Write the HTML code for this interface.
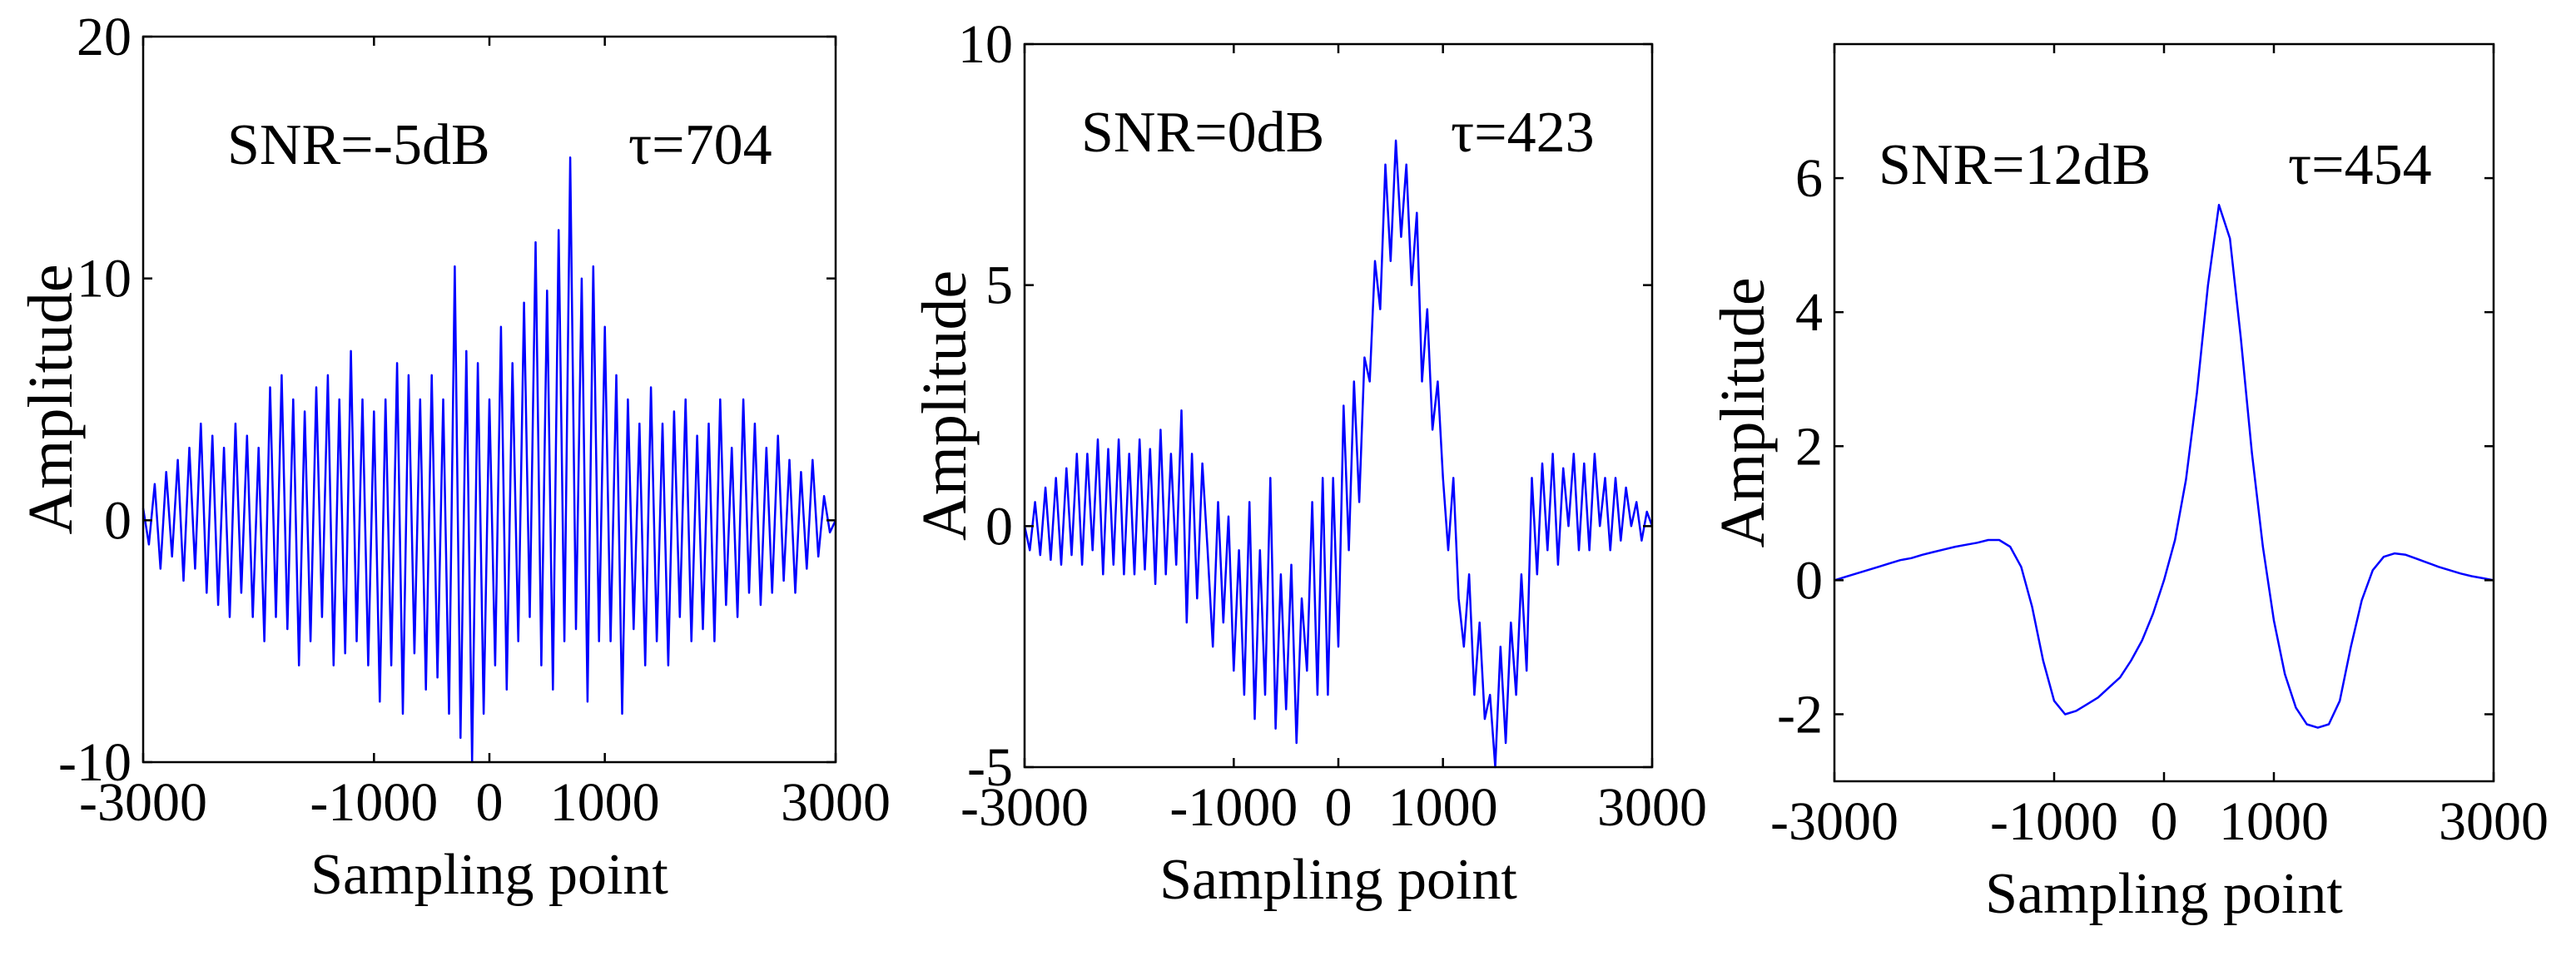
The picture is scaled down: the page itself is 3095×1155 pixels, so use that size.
<!DOCTYPE html>
<html><head><meta charset="utf-8">
<style>
html,body{margin:0;padding:0;background:#fff;}
svg{display:block;}
text{font-family:"Liberation Serif","DejaVu Serif",serif;fill:#000;}
</style></head>
<body>
<svg id="fig" width="3095" height="1155" viewBox="0 0 3095 1155" xmlns="http://www.w3.org/2000/svg"></svg>
<script>
// ---- Data ----
const xTicks = [-3000, -1000, 0, 1000, 3000];
const p1YTicks = [-10, 0, 10, 20];
const p2YTicks = [-5, 0, 5, 10];
const p3YTicks = [-2, 0, 2, 4, 6];
const p1Step = 50;
const p1Values = [0.5,-1,1.5,-2,2,-1.5,2.5,-2.5,3,-2,4,
 -3,3.5,-3.5,3,-4,4,-3,3.5,-4,3,
 -5,5.5,-4,6,-4.5,5,-6,4.5,-5,5.5,
 -4,6,-6,5,-5.5,7,-5,5,-6,4.5,
 -7.5,5,-6,6.5,-8,6,-5.5,5,-7,6,
 -6.5,5,-8,10.5,-9,7,-10,6.5,-8,5,
 -6,8,-7,6.5,-5,9,-4,11.5,-6,9.5,
 -7,12,-5,15,-4.5,10,-7.5,10.5,-5,8,
 -5,6,-8,5,-4.5,4,-6,5.5,-5,4,
 -6,4.5,-4,5,-5,3.5,-4.5,4,-5,5,
 -3.5,3,-4,5,-3,4,-3.5,3,-3,3.5,
 -2.5,2.5,-3,2,-2,2.5,-1.5,1,-0.5,0];
const p2Step = 50;
const p2Values = [0,-0.5,0.5,-0.6,0.8,-0.7,1,-0.8,1.2,-0.6,1.5,
 -0.8,1.5,-0.5,1.8,-1,1.6,-0.8,1.8,-1,1.5,
 -1,1.8,-0.9,1.6,-1.2,2,-1,1.5,-0.8,2.4,
 -2,1.5,-1.5,1.3,-0.5,-2.5,0.5,-2,0.2,-3,
 -0.5,-3.5,0.5,-4,-0.5,-3.5,1,-4.2,-1,-3.8,
 -0.8,-4.5,-1.5,-3,0.5,-3.5,1,-3.5,1,-2.5,
 2.5,-0.5,3,0.5,3.5,3,5.5,4.5,7.5,5.5,
 8,6,7.5,5,6.5,3,4.5,2,3,1,
 -0.5,1,-1.5,-2.5,-1,-3.5,-2,-4,-3.5,-5,
 -2.5,-4.5,-2,-3.5,-1,-3,1,-1,1.3,-0.5,
 1.5,-0.8,1.2,0,1.5,-0.5,1.3,-0.5,1.5,0,
 1,-0.5,1,-0.3,0.8,0,0.5,-0.3,0.3,0];
const p3Step = 100;
const p3Values = [0,0.05,0.1,0.15,0.2,0.25,0.3,0.33,0.38,0.42,
 0.46,0.5,0.53,0.56,0.6,0.6,0.5,0.2,-0.4,-1.2,
 -1.8,-2.0,-1.95,-1.85,-1.75,-1.6,-1.45,-1.2,-0.9,-0.5,
 0.0,0.6,1.5,2.8,4.4,5.6,5.1,3.6,1.9,0.5,
 -0.6,-1.4,-1.9,-2.15,-2.2,-2.15,-1.8,-1.0,-0.3,0.15,
 0.35,0.4,0.38,0.32,0.26,0.2,0.15,0.1,0.06,0.03,
 0];

const NS = "http://www.w3.org/2000/svg";
const svg = document.getElementById('fig');
function mk(tag, attrs, parent){
  const e = document.createElementNS(NS, tag);
  for (const k in attrs) e.setAttribute(k, attrs[k]);
  (parent||svg).appendChild(e);
  return e;
}

function panel(cfg){
  const g = mk('g', {});
  
  
  const {L,R,T,B,ymin,ymax} = cfg;
  const sx = v => L + (v + 3000) / 6000 * (R - L);
  const sy = v => B - (v - ymin) / (ymax - ymin) * (B - T);
  let d = '';
  cfg.values.forEach((v,i) => { d += (i ? 'L' : 'M') + sx(-3000 + i*cfg.step).toFixed(1) + ' ' + sy(v).toFixed(1); });
  const line = mk('path', {d:d, fill:'none', stroke:'#0000ff', 'stroke-width':2.5, 'stroke-linejoin':'round'}, g);
  
  
  const fr = mk('rect', {x:L, y:T, width:R-L, height:B-T, fill:'none', stroke:'#000', 'stroke-width':2.5}, g);
  
  
  xTicks.forEach(t => {
    const x = sx(t);
    mk('line', {x1:x, y1:B, x2:x, y2:B-11, stroke:'#000', 'stroke-width':2.5}, g);
    mk('line', {x1:x, y1:T, x2:x, y2:T+11, stroke:'#000', 'stroke-width':2.5}, g);
    const tx = mk('text', {x:x, y:B+70, 'font-size':66, 'text-anchor':'middle'}, g);
    tx.textContent = String(t);
    
    
  });
  cfg.yTicks.forEach(t => {
    const y = sy(t);
    mk('line', {x1:L, y1:y, x2:L+11, y2:y, stroke:'#000', 'stroke-width':2.5}, g);
    mk('line', {x1:R, y1:y, x2:R-11, y2:y, stroke:'#000', 'stroke-width':2.5}, g);
    const ty = mk('text', {x:L-14, y:y+22, 'font-size':66, 'text-anchor':'end'}, g);
    ty.textContent = String(t);
    
    
  });
  const xt = mk('text', {x:(L+R)/2, y:B+158, 'font-size':70, 'text-anchor':'middle'}, g);
  xt.textContent = 'Sampling point';
  
  
  const yt = mk('text', {x:0, y:0, 'font-size':76, 'text-anchor':'middle', transform:'translate('+(cfg.ylx+24)+','+((T+B)/2)+') rotate(-90)'}, g);
  yt.textContent = 'Amplitude';
  
  
  const s = mk('text', {x:cfg.snrX, y:cfg.annY, 'font-size':70}, g);
  s.textContent = cfg.snr;
  
  
  const ta = mk('text', {x:cfg.tauX, y:cfg.annY, 'font-size':70}, g);
  ta.textContent = cfg.tau;
  
  
}

panel({name:'panel-snr-minus5', L:172,R:1004,T:44,B:916,ymin:-10,ymax:20,yTicks:p1YTicks,values:p1Values,step:p1Step,
  ylx:62, snrX:273, tauX:755, annY:197, snr:'SNR=-5dB', tau:'τ=704'});
panel({name:'panel-snr-0', L:1231,R:1985,T:53,B:922,ymin:-5,ymax:10,yTicks:p2YTicks,values:p2Values,step:p2Step,
  ylx:1136, snrX:1299, tauX:1743, annY:182, snr:'SNR=0dB', tau:'τ=423'});
panel({name:'panel-snr-12', L:2204,R:2996,T:53,B:939,ymin:-3,ymax:8,yTicks:p3YTicks,values:p3Values,step:p3Step,
  ylx:2095, snrX:2257, tauX:2749, annY:221, snr:'SNR=12dB', tau:'τ=454'});
</script>
</body></html>
